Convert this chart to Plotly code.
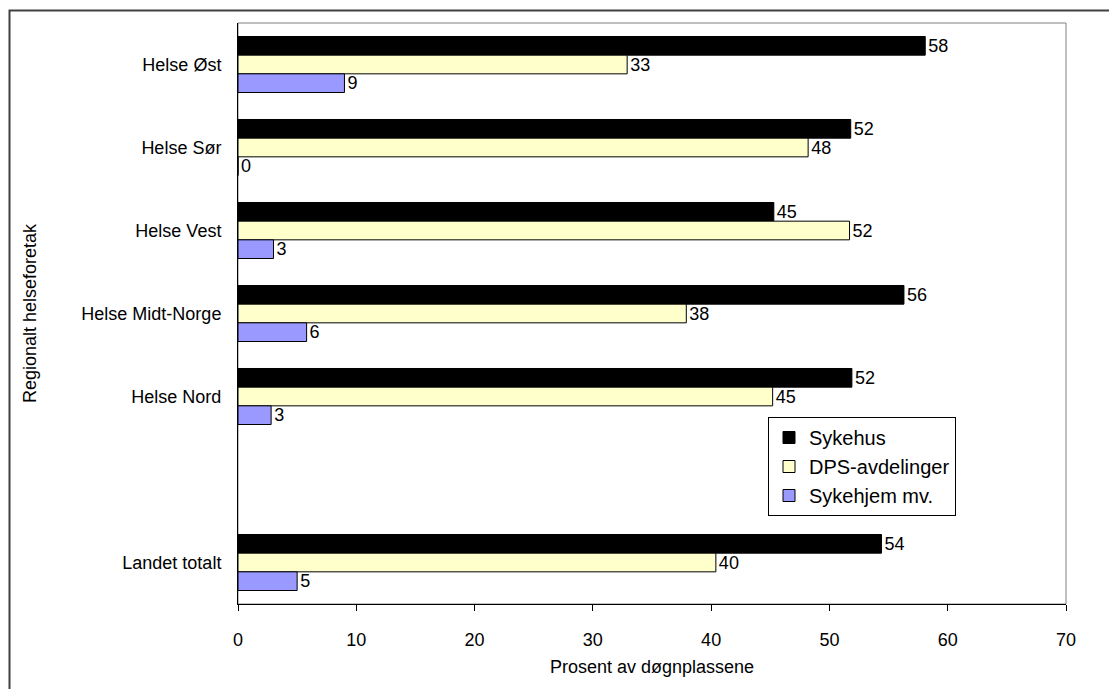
import plotly.graph_objects as go

# Data
categories = ["Helse Øst", "Helse Sør", "Helse Vest", "Helse Midt-Norge", "Helse Nord", "Landet totalt"]
sykehus = [58.1, 51.8, 45.3, 56.3, 51.9, 54.4]
dps = [32.9, 48.2, 51.7, 37.9, 45.2, 40.4]
sykehjem = [9.0, 0.0, 3.0, 5.8, 2.8, 5.0]
series_names = ["Sykehus", "DPS-avdelinger", "Sykehjem mv."]
x_ticks = [0, 10, 20, 30, 40, 50, 60, 70]

# slot positions (blank slot before "Landet totalt")
slots = [0, 1, 2, 3, 4, 6]

FONT = "Arial, Liberation Sans, sans-serif"
FS = 18
colors = ["#000000", "#FFFFCC", "#9999FF"]

fig = go.Figure()
for name, vals, col in zip(series_names, [sykehus, dps, sykehjem], colors):
    fig.add_trace(go.Bar(
        y=slots, x=vals, name=name, orientation="h",
        marker=dict(color=col, line=dict(color="#000000", width=1)),
        texttemplate="%{x:.0f}", textposition="outside",
        textfont=dict(family=FONT, size=FS, color="#000000"),
        constraintext="none", cliponaxis=False,
    ))

OFF = 8  # page body margin
W, H = 1109, 681
L = 238 - OFF
T = 23 - OFF
R = W - (1066 - OFF)
B = H - (604 - OFF)
pw, ph = W - L - R, H - T - B

def px(x):  # page x -> paper
    return (x - OFF - L) / pw

def py(y):  # page y -> paper
    return (H - B - (y - OFF)) / ph

fig.update_layout(
    width=W, height=H,
    margin=dict(l=L, r=R, t=T, b=B, pad=0),
    paper_bgcolor="white", plot_bgcolor="white",
    barmode="group", bargap=0.325, bargroupgap=0,
    font=dict(family=FONT, size=FS, color="#000000"),
    showlegend=True,
    legend=dict(
        x=px(768), y=py(417), xanchor="left", yanchor="top",
        bgcolor="white", bordercolor="#000000", borderwidth=1,
        font=dict(family=FONT, size=20, color="#000000"),
        traceorder="normal",
    ),
    xaxis=dict(
        range=[0, 70], tickvals=x_ticks, showgrid=False, zeroline=False,
        showline=True, linecolor="#000000", linewidth=1,
        ticks="outside", ticklen=6, tickcolor="#000000",
        ticklabelstandoff=13,
        tickfont=dict(family=FONT, size=FS),
        title=dict(text="Prosent av døgnplassene", font=dict(family=FONT, size=FS), standoff=11),
    ),
    yaxis=dict(
        range=[6.5, -0.5], tickvals=slots, ticktext=categories,
        showgrid=False, zeroline=False,
        showline=True, linecolor="#000000", linewidth=1,
        ticks="", ticklabelstandoff=12,
        tickfont=dict(family=FONT, size=FS),
        title=dict(text="Regionalt helseforetak", font=dict(family=FONT, size=FS), standoff=40),
    ),
    shapes=[
        dict(type="rect", xref="paper", yref="paper", x0=0, x1=1, y0=0, y1=1,
             line=dict(color="#808080", width=1), layer="below"),
        dict(type="rect", xref="paper", yref="paper",
             x0=px(9.5), x1=px(1130), y0=py(10.5), y1=py(710),
             line=dict(color="#404040", width=2), layer="above"),
    ],
)

fig.write_html("out.html")
